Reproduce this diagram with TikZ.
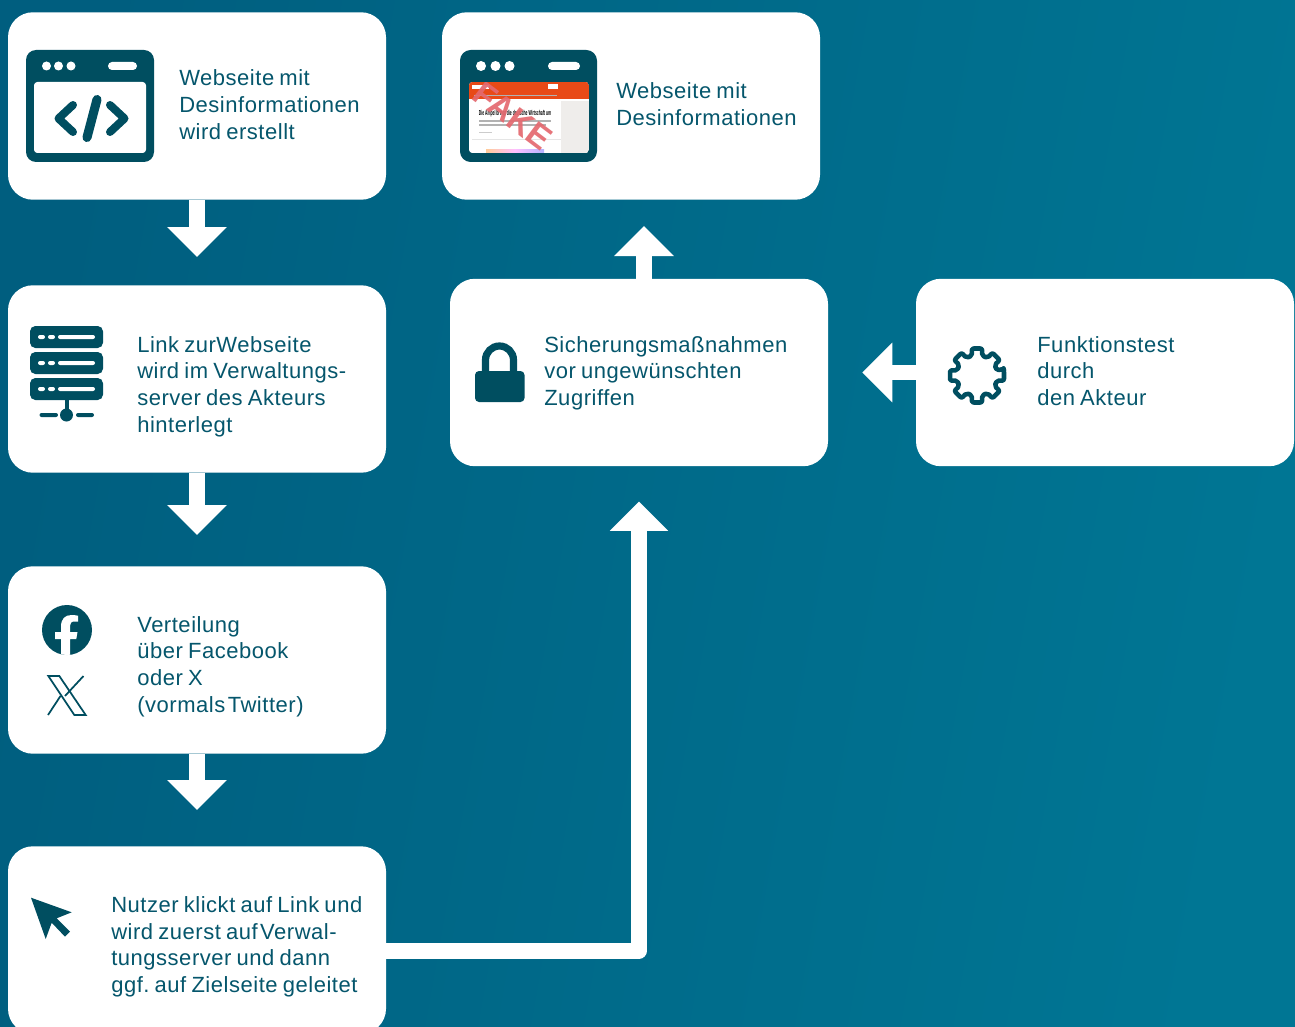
\documentclass[tikz,border=0pt]{standalone}
\usepackage{fontspec}
\setmainfont{Liberation Sans}[LetterSpace=2.4,WordSpace=0.78]
\newfontfamily\plainsans{Liberation Sans}
\usetikzlibrary{arrows.meta,calc}
\definecolor{bgl}{HTML}{005E7F}
\definecolor{bgr}{HTML}{007694}
\definecolor{icon}{HTML}{004E60}
\definecolor{txt}{HTML}{05566C}
\definecolor{orangebar}{HTML}{E84A17}
\definecolor{fakered}{HTML}{E4696F}
\definecolor{greycol}{HTML}{EFEDEB}
\tikzset{
  box/.style={fill=white,rounded corners=18.75pt,minimum width=283.5pt,minimum height=140.6pt,inner sep=0pt},
  label/.style={text=txt,align=left,anchor=west,inner sep=0pt,font=\frenchspacing\fontsize{16.5pt}{19.95pt}\selectfont},
  flow/.style={draw=white,line width=11.4pt,-{Triangle[length=22.5pt,width=43.5pt]}},
  iconfill/.style={fill=icon,draw=none},
  holefill/.style={fill=white,draw=none},
  codeline/.style={draw=icon,line cap=round,line join=round,line width=6pt},
}
\begin{document}
\begin{tikzpicture}[x=0.75pt,y=-0.75pt]
\useasboundingbox (0,0) rectangle (1295,1027);
\clip (0,0) rectangle (1295,1027);
\path[left color=bgl,right color=bgr,shading angle=80] (0,0) rectangle (1295,1027);

% boxes
\node[box] (b1) at (197,106) {};
\node[box] (b2) at (197,379) {};
\node[box] (b3) at (197,660) {};
\node[box] (b4) at (197,940) {};
\node[box] (b5) at (631,106) {};
\node[box] (b6) at (639,372.5) {};
\node[box] (b7) at (1105,372.5) {};

% connectors
\draw[flow,shorten >=21pt] (b1.south) -- (b2.north);
\draw[flow,shorten >=23.25pt] (b2.south) -- (b3.north);
\draw[flow,shorten >=27pt] (b3.south) -- (b4.north);
\draw[flow,shorten >=25.5pt] (b7.west) -- (b6.east);
\coordinate (upstart) at (644,279);
\draw[flow,shorten >=19.5pt] (upstart) -- (upstart |- b5.south);
\coordinate (elbowstart) at (385,950.5);
\coordinate (elbowtip) at ($(b6.south)+(0,35)$);
\draw[draw=white,line width=12pt,line join=round,-{Triangle[length=22pt,width=42.5pt]}] (elbowstart) -- (elbowstart -| elbowtip) -- (elbowtip);

% labels
\node[label] (t1) at (179,104.7) {Webseite mit\\Desinformationen\\wird erstellt};
\node[label] (t2) at (137,386.6) {Link zur\kern-3.5pt{} Webseite\\wird im Verwaltungs-\\server des Akteurs\\hinterlegt};
\node[label] (t3) at (137,666.5) {Verteilung\\über Facebook\\oder X\\(vormals\kern-2pt{} Twitter)};
\node[label] (t4) at (111,947) {Nutzer klickt auf Link und\\wird zuerst auf\kern-2pt{} Verwal-\\tungsserver und dann\\ggf. auf Zielseite geleitet};
\node[label] (t5) at (616,104.3) {Webseite mit\\Desinformationen};
\node[label] (t6) at (544,373.2) {Sicherungsmaßnahmen\\vor ungewünschten\\Zugriffen};
\node[label] (t7) at (1037,371) {Funktionstest\\durch\\den Akteur};

% icon: code window
\fill[iconfill,rounded corners=7.5pt] (26,50) rectangle (154,162);
\fill[holefill,rounded corners=2.5pt] (34,82) rectangle (146,153);
\foreach \x in {46.5,58.5,71} \fill[holefill] (\x,66) circle[radius=4.5];
\fill[holefill,rounded corners=3pt] (108,62) rectangle (137,70);
\draw[codeline] (73,105) -- (58.5,118.5) -- (73,132);
\draw[codeline] (110,105) -- (124.5,118.5) -- (110,132);
\draw[codeline,line width=6.8pt] (97,99.5) -- (87,137.5);

% icon: fake site window
\fill[iconfill,rounded corners=8pt] (460,50) rectangle (597,162);
\foreach \x in {481,495.5,509.5} \fill[holefill] (\x,66) circle[radius=5];
\fill[holefill,rounded corners=3pt] (548,62) rectangle (580,70);
\begin{scope}
\clip[rounded corners=2.5pt] (469,82) rectangle (589,153);
\fill[white] (469,82) rectangle (589,153);
\fill[orangebar] (469,82) rectangle (589,99);
\fill[greycol] (561,101) rectangle (589,153);
\fill[white] (472,85) rectangle (489,89);
\fill[white] (548,84) rectangle (558,89);
\draw[black!30,line width=.6pt] (474,95) -- (557,95);
\node[inner sep=0pt,text=black,anchor=center,xscale=.47,font=\plainsans\bfseries\fontsize{5.4pt}{6pt}\selectfont] (headline) at (515,114) {Die Ampel bringt die deutsche Wirtschaft um};
\draw[black!30,line width=.8pt] (479,121) -- (551,121);
\draw[black!30,line width=.8pt] (479,125) -- (546,125);
\draw[black!20,line width=.6pt] (479,132) -- (492,132);
\draw[black!10,line width=.5pt] (472,139) -- (561,139);
\shade[left color=orange!40,right color=blue!30,middle color=magenta!25] (486,150) rectangle (544,153);
\node[inner sep=0pt,rotate=-37,text=fakered,opacity=.92,font=\plainsans\bfseries\fontsize{25pt}{25pt}\selectfont] (fake) at (513,116) {FAKE};
\end{scope}

% icon: server
\foreach \y in {326,352,378} {
  \fill[iconfill,rounded corners=4pt] (30,\y) rectangle (103,\y+22);
  \fill[holefill,rounded corners=1.5pt] (38,\y+9) rectangle (45,\y+13);
  \fill[holefill,rounded corners=1.5pt] (48,\y+9) rectangle (55,\y+13);
  \fill[holefill,rounded corners=1.5pt] (58,\y+9) rectangle (95,\y+13);
}
\fill[iconfill] (64.5,400) rectangle (68.5,412);
\fill[iconfill] (66.5,415) circle[radius=6.5];
\fill[iconfill,rounded corners=1.5pt] (39.5,413) rectangle (58,417);
\fill[iconfill,rounded corners=1.5pt] (76,413) rectangle (94,417);

% icon: facebook
\fill[iconfill] (67,630) circle[radius=25];
\begin{scope}
\clip (67,630) circle[radius=25];
\fill[white] (61,656) -- (61,639) -- (55,639) -- (55,632) -- (61,632) -- (61,626.5)
  .. controls (61,619) and (65,615) .. (71.5,615) .. controls (74,615) and (76,615.3) .. (78,615.7)
  -- (78,621.5) -- (74.5,621.5) .. controls (71.3,621.5) and (70,623) .. (70,626) -- (70,632) -- (77.5,632) -- (76.3,639) -- (70,639) -- (70,656) -- cycle;
\end{scope}

% icon: X
\draw[icon,line width=1.3pt,line join=miter] (48.3,676) -- (59.3,676) -- (85.7,715) -- (74.3,715) -- cycle;
\draw[icon,line width=1.3pt] (83.5,676) -- (65,696);
\draw[icon,line width=1.3pt] (60.5,696) -- (48,715);

% icon: cursor
\fill[iconfill] (31,897.7) -- (71.7,912.3) -- (56.7,918.3) -- (70,931.7) -- (65,936.7) -- (51.7,922.7) -- (45.7,939) -- cycle;

% icon: lock
\fill[iconfill,rounded corners=3pt] (475,371) rectangle (524.5,402);
\draw[icon,line width=5.4pt] (485.5,373) -- (485.5,360) arc[start angle=180,end angle=360,x radius=14,y radius=14] -- (513.5,373);

% icon: gear
\draw[icon,line width=3.4pt,line join=round,rounded corners=1.5pt,shift={(977,375.5)}]
  (-14:27.5) \foreach \a in {0,45,...,315} { -- (\a-11:27.5) -- (\a+11:27.5) -- (\a+14:20.5) -- (\a+31:20.5) } -- cycle;
\end{tikzpicture}
\end{document}
